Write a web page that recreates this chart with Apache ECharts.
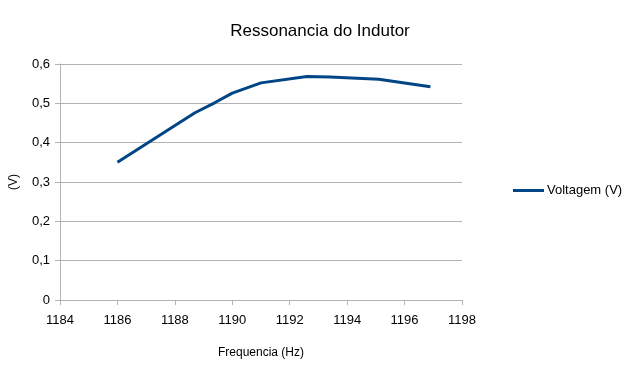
<!DOCTYPE html>
<html>
<head>
<meta charset="utf-8">
<script src="https://cdn.jsdelivr.net/npm/echarts@6/dist/echarts.min.js"></script>
<style>html,body{margin:0;padding:0;background:#fff}#c{width:640px;height:380px}</style>
</head>
<body>
<div id="c"></div>
<script>
var frequencies = [1186, 1188.7, 1189.4, 1190, 1191, 1192.6, 1193.4, 1195.1, 1196.9];
var voltages = [0.35, 0.476, 0.502, 0.526, 0.552, 0.568, 0.567, 0.561, 0.542];
var seriesName = 'Voltagem (V)';
var titleText = 'Ressonancia do Indutor';
var xName = 'Frequencia (Hz)';
var yName = '(V)';

var chart = echarts.init(document.getElementById('c'), null, {renderer: 'canvas'});
var font = 'Liberation Sans, Arial, sans-serif';
chart.setOption({
  animation: false,
  backgroundColor: '#fff',
  textStyle: {fontFamily: font},
  title: {
    text: titleText, left: 'center', top: 18,
    textStyle: {fontSize: 17, fontWeight: 'normal', color: '#000', fontFamily: font}
  },
  legend: {
    left: 508, top: 179,
    icon: 'rect', itemWidth: 31, itemHeight: 3, itemGap: 4,
    textStyle: {fontSize: 13, color: '#000', fontFamily: font, padding: [0, 0, 0, -2]},
    data: [seriesName]
  },
  grid: {left: 58, right: 178, top: 64, bottom: 80, containLabel: false},
  xAxis: {
    type: 'value', min: 1184, max: 1198, interval: 2,
    name: xName, nameLocation: 'middle', nameGap: 47,
    nameTextStyle: {fontSize: 12, color: '#000', fontFamily: font},
    axisLine: {show: true, lineStyle: {color: '#b3b3b3'}},
    axisTick: {show: true, length: 5, lineStyle: {color: '#b3b3b3'}},
    axisLabel: {fontSize: 13, color: '#000', margin: 14, fontFamily: font,
      formatter: function (v) { return String(v); }},
    splitLine: {show: false}
  },
  yAxis: {
    type: 'value', min: 0, max: 0.6, interval: 0.1,
    name: yName, nameLocation: 'middle', nameGap: 40, nameRotate: 90,
    nameTextStyle: {fontSize: 12, color: '#000', fontFamily: font},
    axisLine: {show: true, lineStyle: {color: '#b3b3b3'}},
    axisTick: {show: true, length: 5, lineStyle: {color: '#b3b3b3'}},
    axisLabel: {fontSize: 13, color: '#000', margin: 10, fontFamily: font,
      formatter: function (v) { return (Math.round(v * 10) / 10).toString().replace('.', ','); }},
    splitLine: {show: true, lineStyle: {color: '#b3b3b3'}}
  },
  series: [{
    name: seriesName, type: 'line',
    data: frequencies.map(function (f, i) { return [f, voltages[i]]; }),
    showSymbol: false, symbol: 'none',
    lineStyle: {color: '#004586', width: 3},
    itemStyle: {color: '#004586'}
  }]
});
</script>
</body>
</html>
